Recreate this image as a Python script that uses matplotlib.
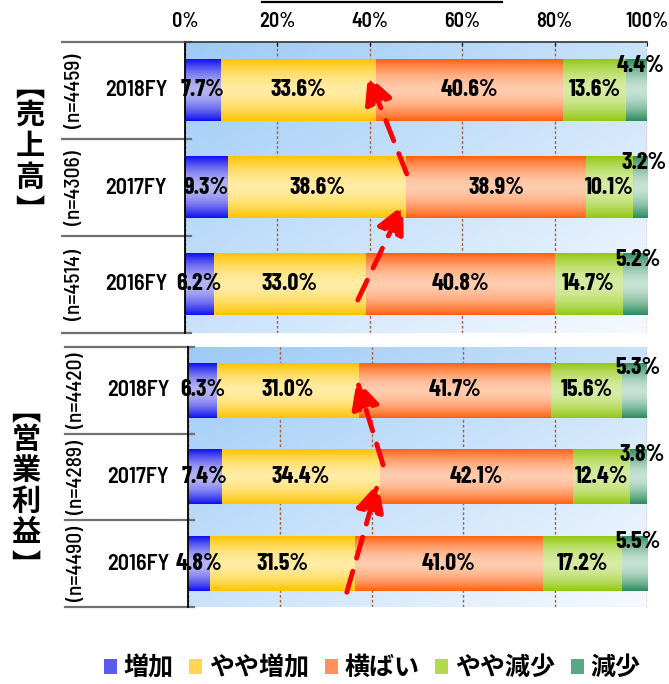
import numpy as np
import matplotlib

matplotlib.use("Agg")
import matplotlib.pyplot as plt
from matplotlib import transforms
from matplotlib.colors import to_rgb
from matplotlib.lines import Line2D
from matplotlib.patches import Patch

# ── data ────────────────────────────────────────────────────────────────
categories = ["増加", "やや増加", "横ばい", "やや減少", "減少"]
years = ["2018FY", "2017FY", "2016FY"]

sales_n = [4459, 4306, 4514]
sales_2018 = [7.7, 33.6, 40.6, 13.6, 4.4]
sales_2017 = [9.3, 38.6, 38.9, 10.1, 3.2]
sales_2016 = [6.2, 33.0, 40.8, 14.7, 5.2]

profit_n = [4420, 4289, 4490]
profit_2018 = [6.3, 31.0, 41.7, 15.6, 5.3]
profit_2017 = [7.4, 34.4, 42.1, 12.4, 3.8]
profit_2016 = [4.8, 31.5, 41.0, 17.2, 5.5]

tick_values = [0, 20, 40, 60, 80, 100]

# ── style ───────────────────────────────────────────────────────────────
W, H = 669, 684
NUM_FONT = ["Barlow Condensed", "DejaVu Sans"]
LBL_FONT = ["Barlow Semi Condensed", "DejaVu Sans"]
JP_FONT = ["Noto Sans CJK JP", "DejaVu Sans"]
edge_colors = ["#1010f0", "#ffc400", "#ff6212", "#94c814", "#2c8c5c"]
mid_colors = ["#b4b4f2", "#ffeca4", "#ffccae", "#d6eca4", "#c6e2d4"]
legend_colors = ["#5a5af0", "#ffd650", "#ff9060", "#b2da4c", "#5aa883"]
BAR_H = 0.63


def px(x):
    return x / W


def py(y):
    return 1 - y / H


def gradient_fill(ax, patch, edge, mid):
    x0, y0 = patch.get_x(), patch.get_y()
    w, h = patch.get_width(), patch.get_height()
    t = np.abs(np.linspace(-1, 1, 80)) ** 1.7
    e, m = np.array(to_rgb(edge)), np.array(to_rgb(mid))
    img = (m + (e - m) * t[:, None])[:, None, :]
    ax.imshow(img, extent=[x0, x0 + w, y0 + h, y0], aspect="auto",
              zorder=2, interpolation="bilinear")
    patch.set_visible(False)


fig = plt.figure(figsize=(W / 100, H / 100), dpi=100)

panels = [
    dict(title="売上高", rows=[sales_2018, sales_2017, sales_2016], n=sales_n,
         box=(185, 42, 647, 333), title_x=30, title_y=93, n_x=74, year_x=136,
         top=True,
         arrows=[((-1.8, 0.16), (-0.7, 0.18)), ((0.1, -0.14), (-1.7, -0.16))]),
    dict(title="営業利益", rows=[profit_2018, profit_2017, profit_2016], n=profit_n,
         box=(188, 347, 647, 607), title_x=26, title_y=417, n_x=77, year_x=138,
         top=False,
         arrows=[((-1.7, 0.33), (-0.4, 0.07)), ((0.7, -0.14), (-0.5, -0.12))]),
]

for p in panels:
    l, t, r, b = p["box"]
    ax = fig.add_axes([px(l), py(b), px(r) - px(l), (b - t) / H])
    ypos = np.arange(len(years))

    # background gradient (light blue top-left -> near white bottom-right)
    gx, gy = np.meshgrid(np.linspace(0, 1, 200), np.linspace(0, 1, 200))
    g = ((gx + gy) / 2)[:, :, None]
    c0, c1 = np.array(to_rgb("#9ccaf6")), np.array(to_rgb("#f6faff"))
    ax.imshow(c0 + (c1 - c0) * g, extent=[0, 1, 0, 1], transform=ax.transAxes,
              aspect="auto", zorder=0)

    data = np.array(p["rows"])
    lefts = np.zeros(len(years))
    for k, cat in enumerate(categories):
        bars = ax.barh(ypos, data[:, k], left=lefts, height=BAR_H, label=cat)
        for i, patch in enumerate(bars.patches):
            gradient_fill(ax, patch, edge_colors[k], mid_colors[k])
            v = data[i, k]
            cx = lefts[i] + v / 2
            if k == len(categories) - 1:
                ax.text(cx + 0.8, ypos[i] - BAR_H / 2 + 0.06, f"{v:.1f}%",
                        ha="center", va="center", fontsize=17.5,
                        fontweight=700, family=NUM_FONT, zorder=5)
            else:
                ax.text(cx, ypos[i], f"{v:.1f}%", ha="center", va="center",
                        fontsize=17.5, fontweight=700, family=NUM_FONT,
                        zorder=5)
        lefts += data[:, k]

    # red dashed trend arrows between the 増加+やや増加 boundaries
    cum = data[:, 0] + data[:, 1]
    pairs = [(2, 1), (1, 0)]
    for (lo, up), ((sdx, sdy), (edx, edy)) in zip(pairs, p["arrows"]):
        ax.annotate("", xy=(cum[up] + edx, ypos[up] + edy),
                    xytext=(cum[lo] + sdx, ypos[lo] + sdy),
                    arrowprops=dict(arrowstyle="-|>,head_length=0.9,head_width=0.45",
                                    color="#ff0000", lw=3.5,
                                    linestyle=(0, (4.5, 2.8)),
                                    mutation_scale=19, shrinkA=0, shrinkB=0),
                    zorder=6)

    ax.set_xlim(0, 100)
    ax.set_ylim(len(years) - 0.5, -0.5)
    ax.set_xticks(tick_values)
    ax.set_yticks([])
    ax.set_axisbelow(True)
    ax.grid(axis="x", color="#b0603a", linestyle=(0, (2, 1.5)), lw=1)
    for s in ["right", "bottom"]:
        ax.spines[s].set_visible(False)
    ax.spines["left"].set_color("black")
    ax.spines["left"].set_linewidth(1.3)
    if p["top"]:
        ax.xaxis.tick_top()
        ax.spines["top"].set_color("#404040")
        ax.spines["top"].set_linewidth(1.3)
        ax.tick_params(axis="x", direction="in", length=3, pad=8,
                       labelsize=14.5)
        ax.set_xticklabels([f"{v}%" for v in tick_values], family=LBL_FONT,
                           fontweight=600)
    else:
        ax.spines["top"].set_visible(False)
        ax.tick_params(axis="x", bottom=False, labelbottom=False)

    # row labels and separators in the label area
    trans = transforms.blended_transform_factory(fig.transFigure, ax.transData)
    for i, yr in enumerate(years):
        ax.text(px(p["year_x"]), ypos[i], yr, transform=trans, ha="center",
                va="center", fontsize=16, fontweight=600, family=LBL_FONT)
        ax.text(px(p["n_x"]), ypos[i], f"(n={p['n'][i]})", transform=trans,
                ha="center", va="center", rotation=90, fontsize=15.5,
                fontweight=500, family=LBL_FONT)
    for yb in np.arange(len(years) + 1) - 0.5:
        ax.plot([px(l - 123), px(l + 6)], [yb, yb], transform=trans,
                color="#707070", lw=1.6, clip_on=False, zorder=1)

    # vertical group title: 【売上高】 / 【営業利益】
    x = px(p["title_x"])
    y = p["title_y"]
    fig.text(x, py(y - 6), "\ufe3b", ha="center", va="center",
             fontsize=21, fontweight="bold", family=JP_FONT)
    y += 22
    for ch in p["title"]:
        fig.text(x, py(y), ch, ha="center", va="center",
                 fontsize=21, fontweight="bold", family=JP_FONT)
        y += 31
    y -= 9
    fig.text(x, py(y + 13), "\ufe3c", ha="center", va="center",
             fontsize=21, fontweight="bold", family=JP_FONT)

# stray rule at the very top of the original image
fig.add_artist(Line2D([px(262), px(502)], [py(1.5), py(1.5)], color="black",
                      lw=1.6, transform=fig.transFigure))

handles = [Patch(facecolor=c, edgecolor="none") for c in legend_colors]
fig.legend(handles, categories, loc="center", bbox_to_anchor=(px(372), py(668)),
           ncol=5, frameon=False,
           prop=dict(family=JP_FONT, weight="bold", size=18),
           handlelength=0.52, handleheight=0.52, handletextpad=0.25,
           columnspacing=0.65)

fig.savefig("out.png", dpi=100)
